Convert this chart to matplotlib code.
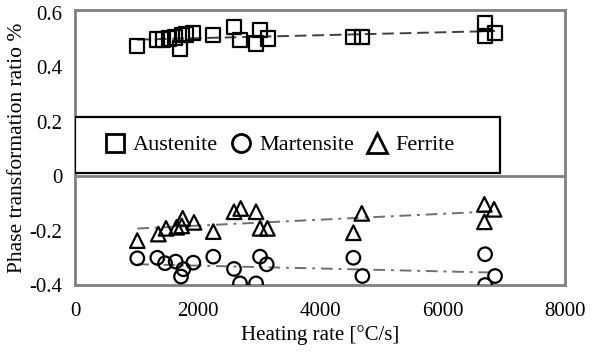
import matplotlib
matplotlib.use('Agg')
import matplotlib.pyplot as plt
import numpy as np
from matplotlib.patches import Rectangle
from matplotlib.lines import Line2D
from matplotlib.ticker import FuncFormatter

plt.rcParams['font.family'] = ['Liberation Serif', 'DejaVu Serif']
plt.rcParams['axes.unicode_minus'] = False

# Austenite (squares)
rateA = [1017, 1344, 1442, 1540, 1633, 1715, 1743, 1813, 1932, 2258,
         2596, 2694, 3021, 2951, 3147, 4535, 4682, 6695, 6695, 6858]
austenite = [0.477, 0.502, 0.502, 0.505, 0.509, 0.469, 0.517, 0.520, 0.526, 0.517,
             0.548, 0.499, 0.536, 0.487, 0.505, 0.511, 0.511, 0.560, 0.514, 0.526]

# Martensite (circles)
rateM = [1017, 1344, 1470, 1644, 1769, 1731, 1932, 2258, 2596, 2694,
         2956, 3021, 3130, 4545, 4692, 6695, 6858, 6695]
martensite = [-0.302, -0.300, -0.320, -0.314, -0.342, -0.369, -0.318, -0.296, -0.341, -0.394,
              -0.394, -0.296, -0.324, -0.300, -0.367, -0.287, -0.367, -0.400]

# Ferrite (triangles)
rateF = [1017, 1361, 1486, 1660, 1758, 1742, 1943, 2258, 2596, 2705,
         2956, 3021, 3141, 4682, 4545, 6684, 6842, 6684]
ferrite = [-0.237, -0.213, -0.192, -0.188, -0.155, -0.183, -0.170, -0.204, -0.131, -0.119,
           -0.131, -0.192, -0.192, -0.137, -0.208, -0.104, -0.122, -0.168]

fig = plt.figure(figsize=(5.96, 3.52), dpi=100)
ax = fig.add_axes([75/596, 1-285/352, 490/596, 275/352])

frame = '#808080'
mk = dict(facecolor='none', edgecolor='black', linewidths=1.6, zorder=3)

# trend lines (linear fits)
def trend(x, y, **kw):
    x = np.array(x)
    p = np.polyfit(x, y, 1)
    xs = np.array([x.min(), x.max()])
    ax.plot(xs, np.polyval(p, xs), **kw)

trend(rateA, austenite, color='#404040', lw=1.4, linestyle=(0, (6, 3)), zorder=2)
trend(rateM, martensite, color='#707070', lw=1.4, linestyle=(0, (6, 3, 1.5, 3)), zorder=2)
trend(rateF, ferrite, color='#707070', lw=1.4, linestyle=(0, (6, 3, 1.5, 3)), zorder=2)

ax.scatter(rateA, austenite, marker='s', s=105, **mk)
ax.scatter(rateM, martensite, marker='o', s=95, **mk)
ax.scatter(rateF, ferrite, marker='^', s=110, **mk)

ax.axhline(0, color=frame, lw=2, zorder=1)

ax.set_xlim(0, 8000)
ax.set_ylim(-0.4, 0.61)
ax.set_xticks([0, 2000, 4000, 6000, 8000])
ax.set_yticks([-0.4, -0.2, 0, 0.2, 0.4, 0.6])
ax.yaxis.set_major_formatter(FuncFormatter(lambda v, _: '0' if abs(v) < 1e-9 else f'{v:.1f}'))
ax.tick_params(length=0, labelsize=15, colors='black')
ax.tick_params(axis='x', pad=12)
ax.tick_params(axis='y', pad=9)
for s in ax.spines.values():
    s.set_color(frame)
    s.set_linewidth(2)

ax.set_xlabel('Heating rate [°C/s]', fontsize=15, labelpad=3)
ax.set_ylabel('Phase transformation ratio %', fontsize=15.5, labelpad=2)

# legend box
ax.add_patch(Rectangle((0, 0.407), 0.867, 0.204, transform=ax.transAxes,
                       facecolor='white', edgecolor='black', lw=1.6, zorder=4))
lk = dict(linestyle='none', markerfacecolor='none', markeredgecolor='black',
          markeredgewidth=2.0)
hA = Line2D([], [], marker='s', markersize=12.5, **lk)
hM = Line2D([], [], marker='o', markersize=13, **lk)
hF = Line2D([], [], marker='^', markersize=14, **lk)
leg = ax.legend([hA, hM, hF], ['Austenite', 'Martensite', 'Ferrite'], ncol=3,
                loc='center', bbox_to_anchor=(0.419, 0.509), frameon=False,
                fontsize=16, handletextpad=0.41, columnspacing=0.63, handlelength=0.8)
leg.set_zorder(5)

fig.savefig('out.png', dpi=100)
